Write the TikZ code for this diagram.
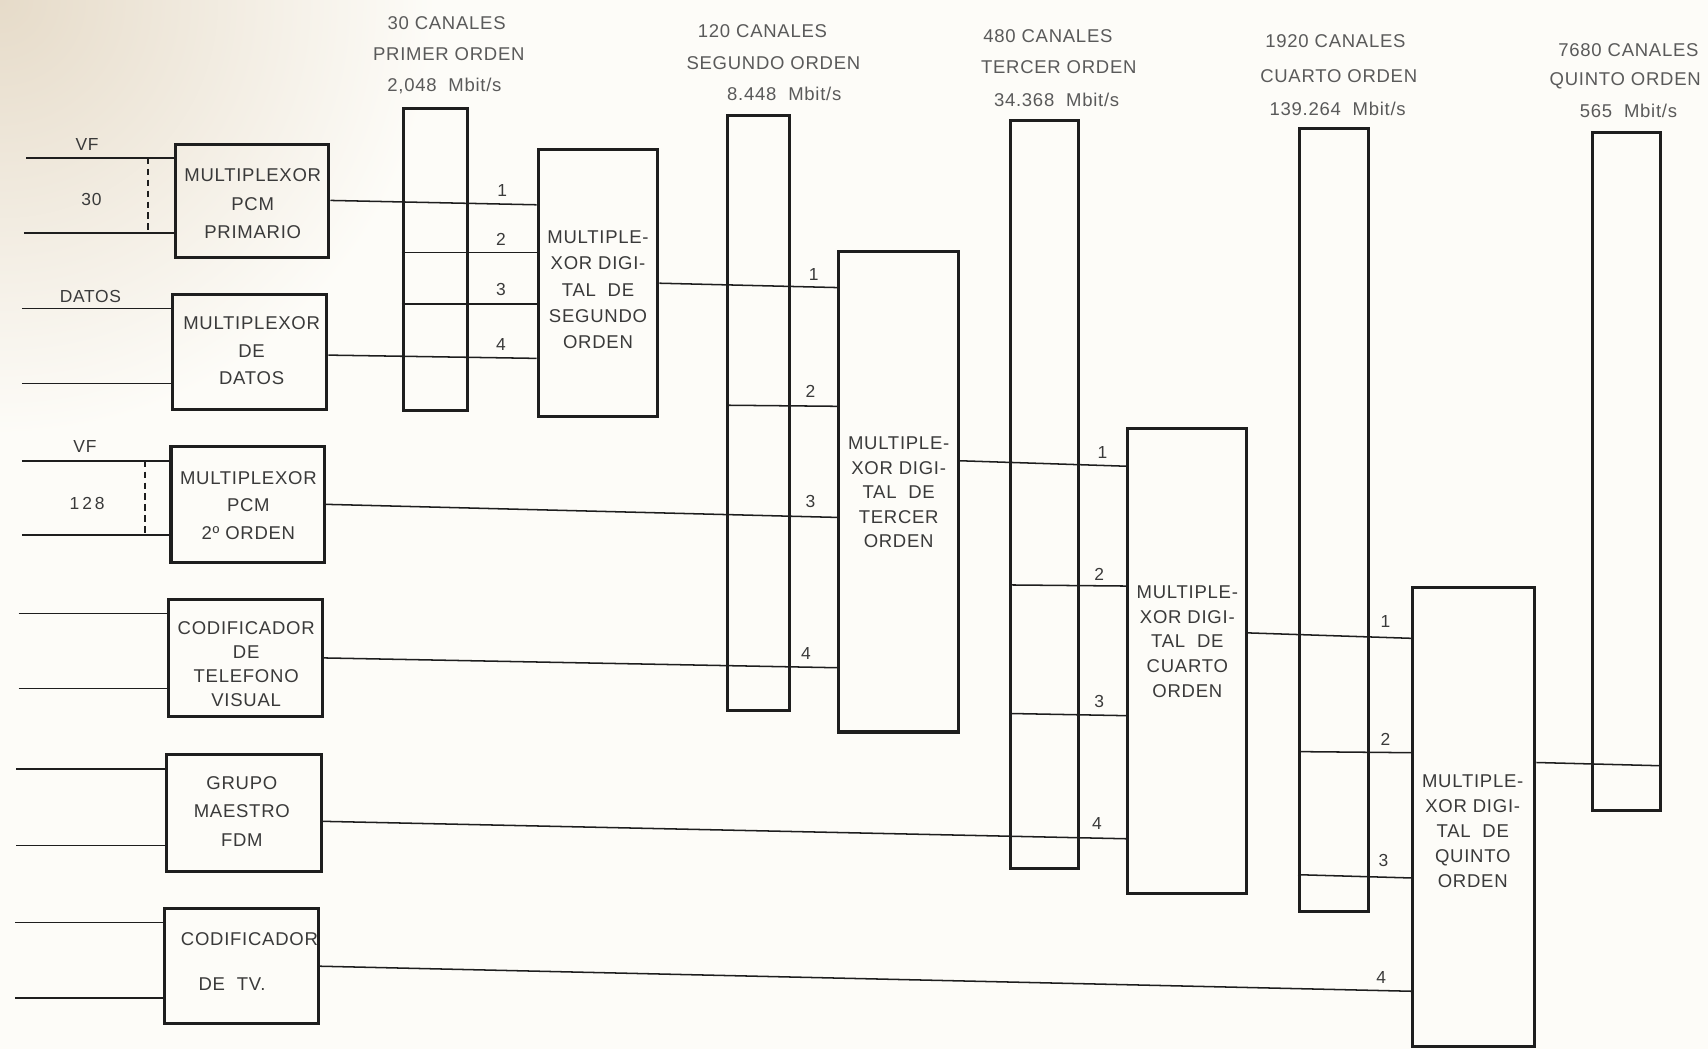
\documentclass[tikz,border=0pt]{standalone}
\usepackage{fontspec}
\setmainfont{Liberation Sans}[LetterSpace=4]
\usetikzlibrary{fit,calc}
\definecolor{paper}{HTML}{FDFCF8}
\definecolor{shadow}{HTML}{E6DBC9}
\definecolor{ink}{HTML}{1E1E1E}
\definecolor{txt}{HTML}{3A3A3A}
\definecolor{htxt}{HTML}{5A5A5A}
\tikzset{
  boxsty/.style={draw=ink, line width=1.4pt, inner sep=0pt, rectangle},
  barsty/.style={draw=ink, line width=1.4pt, inner sep=0pt, rectangle},
  conn/.style={draw=ink, line width=0.7pt},
  btext/.style={text=txt, align=center, inner sep=0pt},
  htext/.style={text=htxt, inner sep=0pt, font=\fontsize{8.5}{9}\selectfont},
  num/.style={text=txt, inner sep=0pt, font=\fontsize{8}{9}\selectfont},
}
\begin{document}
\begin{tikzpicture}[x=0.5pt,y=-0.5pt]
\useasboundingbox (0,0) rectangle (1568,963);
\fill[paper] (0,0) rectangle (1568,963);
\begin{scope}
\clip (0,0) rectangle (1568,963);
\shade[inner color=shadow, outer color=paper] (0,0) circle (400);
\end{scope}

% headers
\node[htext] (h1a) at (410,21) {30 CANALES};
\node[htext] (h1b) at (412,50) {PRIMER ORDEN};
\node[htext] (h1c) at (408,79) {2,048\ \ Mbit/s};
\node[htext] (h2a) at (700,29) {120 CANALES};
\node[htext] (h2b) at (710,58) {SEGUNDO ORDEN};
\node[htext] (h2c) at (720,86) {8.448\ \ Mbit/s};
\node[htext] (h3a) at (962,33) {480 CANALES};
\node[htext] (h3b) at (972,62) {TERCER ORDEN};
\node[htext] (h3c) at (970,92) {34.368\ \ Mbit/s};
\node[htext] (h4a) at (1226,38) {1920 CANALES};
\node[htext] (h4b) at (1229,70) {CUARTO ORDEN};
\node[htext] (h4c) at (1228,100) {139.264\ \ Mbit/s};
\node[htext] (h5a) at (1495,46) {7680 CANALES};
\node[htext] (h5b) at (1492,74) {QUINTO ORDEN};
\node[htext] (h5c) at (1495,102) {565\ \ Mbit/s};

% left boxes
\node[boxsty, fit={(161,133) (302,236)}] (b1) {};
\node[boxsty, fit={(158,270) (300,376)}] (b2) {};
\node[boxsty, fit={(157,410) (298,516)}] (b3) {};
\node[boxsty, fit={(155,550) (296,658)}] (b4) {};
\node[boxsty, fit={(153,693) (295,800)}] (b5) {};
\node[boxsty, fit={(151,834) (292,940)}] (b6) {};

\node[btext, font=\fontsize{8.5}{13.2}\selectfont] (t1) at (232,187) {MULTIPLEXOR\\PCM\\PRIMARIO};
\node[btext, font=\fontsize{8.5}{12.6}\selectfont] (t2) at (231,322) {MULTIPLEXOR\\DE\\DATOS};
\node[btext, font=\fontsize{8.5}{12.6}\selectfont] (t3) at (228,464) {MULTIPLEXOR\\PCM\\2º ORDEN};
\node[btext, font=\fontsize{8.5}{11}\selectfont] (t4) at (226,610) {CODIFICADOR\\DE\\TELEFONO\\VISUAL};
\node[btext, font=\fontsize{8.5}{13}\selectfont] (t5) at (222,745) {GRUPO\\MAESTRO\\FDM};
\node[btext, font=\fontsize{8.5}{10}\selectfont] (t6a) at (229,862) {CODIFICADOR};
\node[btext, font=\fontsize{8.5}{10}\selectfont] (t6b) at (213,903) {DE\ \ TV.};

% bars
\node[barsty, fit={(370,100) (429,377)}] (bar1) {};
\node[barsty, fit={(668,106) (725,652)}] (bar2) {};
\node[barsty, fit={(928,111) (990,797)}] (bar3) {};
\node[barsty, fit={(1193,118) (1256,837)}] (bar4) {};
\node[barsty, fit={(1462,122) (1524,744)}] (bar5) {};

% multiplexers
\node[boxsty, fit={(494,137) (604,382)}] (m2) {};
\node[boxsty, fit={(770,231) (880,672)}] (m3) {};
\node[boxsty, fit={(1035,393) (1144,820)}] (m4) {};
\node[boxsty, fit={(1297,539) (1409,961)}] (m5) {};

\node[btext, font=\fontsize{8.5}{12}\selectfont] (tm2) at (549,266) {MULTIPLE-\\XOR DIGI-\\TAL\ \ DE\\SEGUNDO\\ORDEN};
\node[btext, font=\fontsize{8.5}{11.3}\selectfont] (tm3) at (825,452) {MULTIPLE-\\XOR DIGI-\\TAL\ \ DE\\TERCER\\ORDEN};
\node[btext, font=\fontsize{8.5}{11.4}\selectfont] (tm4) at (1090,589) {MULTIPLE-\\XOR DIGI-\\TAL\ \ DE\\CUARTO\\ORDEN};
\node[btext, font=\fontsize{8.5}{11.4}\selectfont] (tm5) at (1352,763) {MULTIPLE-\\XOR DIGI-\\TAL\ \ DE\\QUINTO\\ORDEN};

% input lines
\coordinate (i1a) at (24,145);  \coordinate (i1b) at (22,214);
\coordinate (i2a) at (20,283);  \coordinate (i2b) at (20,352);
\coordinate (i3a) at (20,423);  \coordinate (i3b) at (20,491);
\coordinate (i4a) at (17,563);  \coordinate (i4b) at (17,632);
\coordinate (i5a) at (15,706);  \coordinate (i5b) at (15,776);
\coordinate (i6a) at (14,847);  \coordinate (i6b) at (14,916);
\foreach \i/\b in {1/b1,2/b2,3/b3,4/b4,5/b5,6/b6}{
  \draw[conn] (i\i a) -- (\b.west |- i\i a);
  \draw[conn] (i\i b) -- (\b.west |- i\i b);
}
\coordinate (d1a) at (136,145); \coordinate (d1b) at (136,214);
\coordinate (d3a) at (133,423); \coordinate (d3b) at (133,491);
\draw[conn, dashed, dash pattern=on 3pt off 2pt] (d1a) -- (d1b);
\draw[conn, dashed, dash pattern=on 3pt off 2pt] (d3a) -- (d3b);
\node[btext, font=\fontsize{8}{9}\selectfont] (vf1) at (80,133) {VF};
\node[btext, font=\fontsize{8}{9}\selectfont] (n30) at (84,183) {30};
\node[btext, font=\fontsize{8}{9}\selectfont] (dat) at (83,272) {DATOS};
\node[btext, font=\fontsize{8}{9}\selectfont] (vf2) at (78,410) {VF};
\node[btext, font=\fontsize{8}{9}\selectfont] (n128) at (80,462) {1\,2\,8};

% second order
\draw[conn] (b1.east |- 0,184) -- (m2.west |- 0,188);
\draw[conn] (bar1.west |- 0,232) -- (m2.west |- 0,232);
\draw[conn] (bar1.west |- 0,279) -- (m2.west |- 0,279);
\draw[conn] (b2.east |- 0,326) -- (m2.west |- 0,329);
\node[num] (l11) at (461,175) {1};
\node[num] (l12) at (460,220) {2};
\node[num] (l13) at (460,266) {3};
\node[num] (l14) at (460,316) {4};

% third order
\draw[conn] (m2.east |- 0,260) -- (m3.west |- 0,264);
\draw[conn] (bar2.west |- 0,372) -- (m3.west |- 0,373);
\draw[conn] (b3.east |- 0,463) -- (m3.west |- 0,475);
\draw[conn] (b4.east |- 0,604) -- (m3.west |- 0,613);
\node[num] (l21) at (747,252) {1};
\node[num] (l22) at (744,359) {2};
\node[num] (l23) at (744,460) {3};
\node[num] (l24) at (740,600) {4};

% fourth order
\draw[conn] (m3.east |- 0,423) -- (m4.west |- 0,428);
\draw[conn] (bar3.west |- 0,537) -- (m4.west |- 0,538);
\draw[conn] (bar3.west |- 0,655) -- (m4.west |- 0,657);
\draw[conn] (b5.east |- 0,754) -- (m4.west |- 0,770);
\node[num] (l31) at (1012,415) {1};
\node[num] (l32) at (1009,527) {2};
\node[num] (l33) at (1009,644) {3};
\node[num] (l34) at (1007,756) {4};

% fifth order
\draw[conn] (m4.east |- 0,581) -- (m5.west |- 0,586);
\draw[conn] (bar4.west |- 0,690) -- (m5.west |- 0,691);
\draw[conn] (bar4.west |- 0,803) -- (m5.west |- 0,806);
\draw[conn] (b6.east |- 0,887) -- (m5.west |- 0,910);
\node[num] (l41) at (1272,571) {1};
\node[num] (l42) at (1272,679) {2};
\node[num] (l43) at (1270,790) {3};
\node[num] (l44) at (1268,897) {4};

% output
\draw[conn] (m5.east |- 0,700) -- (bar5.east |- 0,703);
\end{tikzpicture}
\end{document}
